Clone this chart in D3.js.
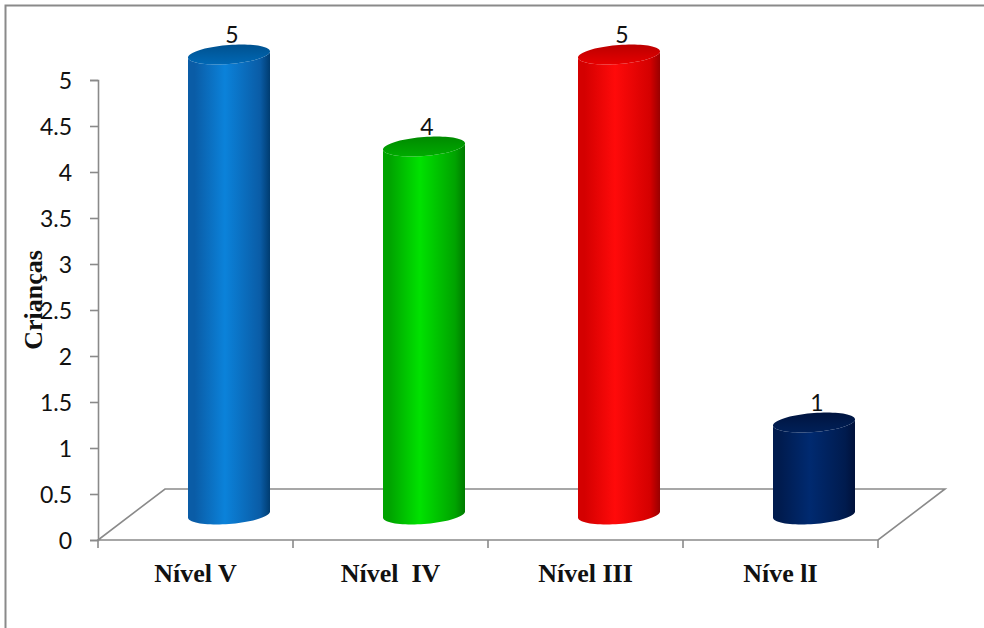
<!DOCTYPE html>
<html>
<head>
<meta charset="utf-8">
<script src="https://cdn.jsdelivr.net/npm/d3@7"></script>
<style>
  html, body { margin: 0; padding: 0; background: #fff; }
  svg { display: block; }
</style>
</head>
<body>
<div id="chart"></div>
<script>
// Chart data
const categories = ["Nível V", "Nível  IV", "Nível III", "Níve lI"];
const values = [5, 4, 5, 1];
const yTicks = [0, 0.5, 1, 1.5, 2, 2.5, 3, 3.5, 4, 4.5, 5];
const yTitle = "Crianças";

// Cylinder palettes: [edge, highlight, shadow edge, top back, top front]
const palettes = [
  ["#0a5ca6", "#0b82da", "#003c70", "#00518f", "#0068b5"],
  ["#00a300", "#00e200", "#007a00", "#008a00", "#00ab00"],
  ["#d40000", "#ff0a0a", "#980000", "#bb0000", "#e60000"],
  ["#001b4e", "#002a70", "#00113a", "#00143f", "#002058"]
];

const W = 984, H = 628;
const svg = d3.select("#chart").append("svg")
  .attr("width", W).attr("height", H);

const defs = svg.append("defs");

// Outer frame
svg.append("rect")
  .attr("x", 5.5).attr("y", 5.5)
  .attr("width", W + 20).attr("height", H + 20)
  .attr("fill", "none").attr("stroke", "#8a8a8a").attr("stroke-width", 2);

const x0 = 98, x1 = 878, yBase = 540, yTop = 80;
const depthX = 67, depthY = -51;

const x = d3.scaleBand().domain(categories).range([x0, x1]).padding(0);
const y = d3.scaleLinear().domain([0, 5]).range([yBase, yTop]);

const axisColor = "#8a8a8a";
const numFont = "Lato, 'Open Sans', sans-serif";
const serif = "'Liberation Serif', 'Times New Roman', serif";

// Floor of the 3-D plot area
const floor = [
  [x0, yBase], [x1, yBase], [x1 + depthX, yBase + depthY], [x0 + depthX, yBase + depthY]
];
svg.append("path")
  .attr("d", d3.line()(floor) + "Z")
  .attr("fill", "none").attr("stroke", axisColor).attr("stroke-width", 1.6);

// Y axis
const yAxis = svg.append("g")
  .attr("transform", `translate(${x0},0)`)
  .call(d3.axisLeft(y).tickValues(yTicks).tickSize(8).tickPadding(18)
    .tickFormat(d => String(d)));
yAxis.select(".domain").attr("stroke", axisColor).attr("stroke-width", 1.6);
yAxis.selectAll(".tick line").attr("stroke", axisColor).attr("stroke-width", 1.6);
yAxis.selectAll(".tick text")
  .attr("fill", "#111").attr("font-family", numFont)
  .attr("font-size", 23).attr("dy", "0.36em");

// X axis ticks at category boundaries
const bounds = categories.map(c => x(c)).concat([x1]);
svg.append("g").selectAll("line").data(bounds).join("line")
  .attr("x1", d => d).attr("x2", d => d)
  .attr("y1", yBase).attr("y2", yBase + 8)
  .attr("stroke", axisColor).attr("stroke-width", 1.6);

// Category labels
svg.append("g").selectAll("text").data(categories).join("text")
  .attr("x", d => x(d) + x.bandwidth() / 2)
  .attr("y", 582)
  .attr("text-anchor", "middle")
  .style("white-space", "pre")
  .attr("font-family", serif)
  .attr("font-weight", "bold").attr("font-size", 26).attr("fill", "#111")
  .text(d => d);

// Y title
svg.append("text")
  .attr("transform", "translate(42,300) rotate(-90)")
  .attr("text-anchor", "middle")
  .attr("font-family", serif)
  .attr("font-weight", "bold").attr("font-size", 26).attr("fill", "#111")
  .text(yTitle);

// Cylinders
const rx = 41, ry = 9.5, shear = 0.075;
const pt = (cx, cy, t) => [cx + rx * Math.cos(t), cy + ry * Math.sin(t) - shear * rx * Math.cos(t)];
const arc = (cx, cy, a0, a1, n = 40) => d3.range(n + 1).map(i => pt(cx, cy, a0 + (a1 - a0) * i / n));
const line = d3.line();

const bars = categories.map((c, i) => {
  const cx = x(c) + x.bandwidth() / 2 + depthX / 2;
  const cyBot = y(0) + depthY / 2;
  const cyTop = y(values[i]) + depthY / 2;
  return { c, i, v: values[i], cx, cyBot, cyTop };
});

bars.forEach(b => {
  const p = palettes[b.i];
  const gid = "body" + b.i, tid = "top" + b.i;
  const g = defs.append("linearGradient").attr("id", gid)
    .attr("x1", 0).attr("x2", 1).attr("y1", 0).attr("y2", 0);
  g.append("stop").attr("offset", "0%").attr("stop-color", p[0]);
  g.append("stop").attr("offset", "8%").attr("stop-color", p[0]);
  g.append("stop").attr("offset", "45%").attr("stop-color", p[1]);
  g.append("stop").attr("offset", "88%").attr("stop-color", p[0]);
  g.append("stop").attr("offset", "100%").attr("stop-color", p[2]);
  const t = defs.append("linearGradient").attr("id", tid)
    .attr("x1", 0).attr("x2", 0).attr("y1", 0).attr("y2", 1);
  t.append("stop").attr("offset", "0%").attr("stop-color", p[3]);
  t.append("stop").attr("offset", "100%").attr("stop-color", p[4]);

  const body = []
    .concat(arc(b.cx, b.cyBot, Math.PI, 0))
    .concat(arc(b.cx, b.cyTop, 0, Math.PI));
  svg.append("path")
    .attr("d", line(body) + "Z")
    .attr("fill", `url(#${gid})`);

  svg.append("path")
    .attr("d", line(arc(b.cx, b.cyTop, 0, 2 * Math.PI, 80)) + "Z")
    .attr("fill", `url(#${tid})`);
});

// Value labels
svg.append("g").selectAll("text").data(bars).join("text")
  .attr("x", d => d.cx + 3)
  .attr("y", d => d.cyTop - 12)
  .attr("text-anchor", "middle")
  .attr("font-family", numFont)
  .attr("font-size", 23).attr("fill", "#111")
  .text(d => d.v);
</script>
</body>
</html>
